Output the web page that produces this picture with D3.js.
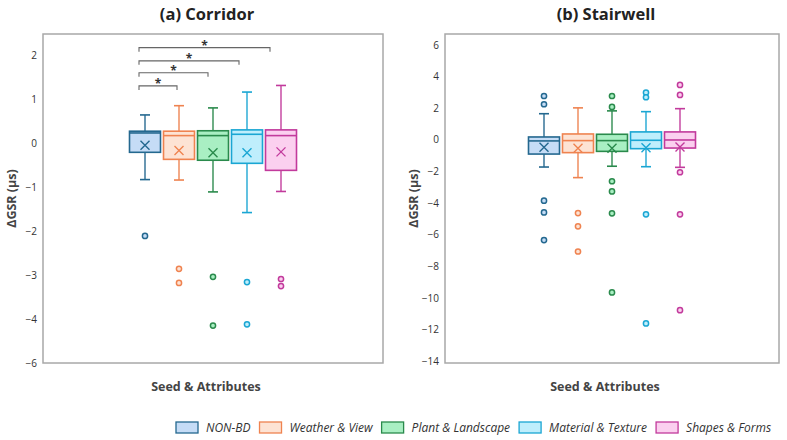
<!DOCTYPE html>
<html>
<head>
<meta charset="utf-8">
<script src="https://cdn.jsdelivr.net/npm/d3@7"></script>
<style>
  body { margin: 0; background: #fff; }
  svg { font-family: "Open Sans", "Noto Sans", sans-serif; }
  .tick-label { font-size: 10px; fill: #333; }
  .panel-title { font-size: 16.5px; font-weight: bold; fill: #222; }
  .axis-title { font-size: 12.5px; font-weight: bold; fill: #444; }
  .legend-label { font-size: 12px; font-style: italic; fill: #333; }
</style>
</head>
<body>
<svg id="chart" width="787" height="440"></svg>
<script>
// categories and colours
const categories = ['NON-BD', 'Weather & View', 'Plant & Landscape', 'Material & Texture', 'Shapes & Forms'];
const strokeColors = ['#24688f', '#ef8350', '#2a8a4c', '#1aa6d3', '#c23a9c'];
const fillColors = ['#c5dcf6', '#fde3d4', '#a9efc3', '#bfeefc', '#fbd0ef'];

// (a) Corridor
const corridorLow = [-0.83, -0.84, -1.11, -1.58, -1.10];
const corridorQ1 = [-0.21, -0.37, -0.39, -0.46, -0.62];
const corridorMedian = [0.23, 0.17, 0.17, 0.20, 0.17];
const corridorQ3 = [0.27, 0.27, 0.28, 0.30, 0.30];
const corridorHigh = [0.64, 0.85, 0.80, 1.16, 1.31];
const corridorMean = [-0.05, -0.17, -0.22, -0.22, -0.20];
const corridorOutliers = [[-2.11], [-2.86, -3.18], [-3.04, -4.15], [-3.16, -4.12], [-3.09, -3.25]];
const corridorTicks = [2, 1, 0, -1, -2, -3, -4, -5];
const corridorTickLabels = ['2', '1', '0', '−1', '−2', '−3', '−4', '−6'];
// significance brackets: NON-BD vs each other category
const sigTargets = [1, 2, 3, 4];
const sigLevels = [1.30, 1.60, 1.87, 2.17];

// (b) Stairwell
const stairLow = [-1.71, -2.38, -1.66, -1.69, -1.73];
const stairQ1 = [-0.89, -0.80, -0.72, -0.55, -0.51];
const stairMedian = [-0.06, -0.04, -0.04, -0.02, 0.00];
const stairQ3 = [0.19, 0.38, 0.36, 0.51, 0.51];
const stairHigh = [1.66, 2.03, 1.84, 1.79, 1.98];
const stairMean = [-0.46, -0.53, -0.53, -0.49, -0.44];
const stairOutliers = [[2.78, 2.26, -3.84, -4.58, -6.33], [-4.62, -5.46, -7.05],
  [2.78, 2.09, -2.61, -3.25, -4.64, -9.64], [3.0, 2.7, -4.7, -11.6], [3.48, 2.85, -2.04, -4.7, -10.76]];
const stairTicks = [6, 4, 2, 0, -2, -4, -6, -8, -10, -12, -14];
const stairTickLabels = ['6', '4', '2', '0', '−2', '−4', '−6', '−8', '−10', '−12', '−14'];

const svg = d3.select('#chart');

function drawPanel(cfg) {
  const g = svg.append('g');
  const x = d3.scaleBand()
      .domain(categories)
      .range([cfg.cx - 85, cfg.cx + 85]);
  const y = d3.scaleLinear()
      .domain(cfg.domain)
      .range([cfg.bottom, cfg.top]);
  const boxW = 31, capW = 10;

  // frame
  g.append('rect')
      .attr('x', cfg.left).attr('y', cfg.top)
      .attr('width', cfg.right - cfg.left).attr('height', cfg.bottom - cfg.top)
      .attr('fill', 'none').attr('stroke', '#a8a8a8').attr('stroke-width', 1.5);

  // y axis labels
  g.selectAll('.tick-label')
      .data(cfg.ticks)
    .join('text')
      .attr('class', 'tick-label')
      .attr('x', cfg.left - 6)
      .attr('y', d => y(d))
      .attr('dy', '0.35em')
      .attr('text-anchor', 'end')
      .text((d, i) => cfg.tickLabels[i]);

  g.append('text')
      .attr('class', 'panel-title')
      .attr('x', (cfg.left + cfg.right) / 2 - 6)
      .attr('y', 20)
      .attr('text-anchor', 'middle')
      .text(cfg.title);

  g.append('text')
      .attr('class', 'axis-title')
      .attr('transform', `translate(${cfg.left - 27},${(cfg.top + cfg.bottom) / 2}) rotate(-90)`)
      .attr('text-anchor', 'middle')
      .text('ΔGSR (μs)');

  g.append('text')
      .attr('class', 'axis-title')
      .attr('x', (cfg.left + cfg.right) / 2 - 7)
      .attr('y', 391)
      .attr('text-anchor', 'middle')
      .text('Seed & Attributes');

  categories.forEach((c, i) => {
    const cx = x(c) + x.bandwidth() / 2;
    const col = strokeColors[i];
    const bg = g.append('g');
    // whiskers
    bg.append('line').attr('x1', cx).attr('x2', cx)
        .attr('y1', y(cfg.high[i])).attr('y2', y(cfg.q3[i]))
        .attr('stroke', col).attr('stroke-width', 1.6).attr('opacity', 0.85);
    bg.append('line').attr('x1', cx).attr('x2', cx)
        .attr('y1', y(cfg.q1[i])).attr('y2', y(cfg.low[i]))
        .attr('stroke', col).attr('stroke-width', 1.6).attr('opacity', 0.85);
    [cfg.high[i], cfg.low[i]].forEach(v => {
      bg.append('line').attr('x1', cx - capW / 2).attr('x2', cx + capW / 2)
          .attr('y1', y(v)).attr('y2', y(v))
          .attr('stroke', col).attr('stroke-width', 1.6);
    });
    // box
    bg.append('rect')
        .attr('x', cx - boxW / 2).attr('width', boxW)
        .attr('y', y(cfg.q3[i])).attr('height', y(cfg.q1[i]) - y(cfg.q3[i]))
        .attr('fill', fillColors[i]).attr('stroke', col).attr('stroke-width', 1.6);
    bg.append('line').attr('x1', cx - boxW / 2).attr('x2', cx + boxW / 2)
        .attr('y1', y(cfg.median[i])).attr('y2', y(cfg.median[i]))
        .attr('stroke', col).attr('stroke-width', 1.6);
    // mean marker
    const my = y(cfg.mean[i]), s = 4.5;
    bg.append('path')
        .attr('d', `M${cx - s},${my - s}L${cx + s},${my + s}M${cx - s},${my + s}L${cx + s},${my - s}`)
        .attr('stroke', col).attr('stroke-width', 1.4).attr('fill', 'none');
    // outliers
    bg.selectAll('circle')
        .data(cfg.outliers[i])
      .join('circle')
        .attr('cx', cx).attr('cy', d => y(d)).attr('r', 2.6)
        .attr('fill', fillColors[i]).attr('stroke', col).attr('stroke-width', 1.5);
  });

  if (cfg.sig) {
    const x0 = x(categories[0]) + x.bandwidth() / 2 - 6;
    sigTargets.forEach((t, k) => {
      const x1 = x(categories[t]) + x.bandwidth() / 2 - (3 * (k + 1) - 1);
      const yy = y(sigLevels[k]);
      g.append('path')
          .attr('d', `M${x0},${yy + 4}V${yy}H${x1}V${yy + 4}`)
          .attr('fill', 'none').attr('stroke', '#666').attr('stroke-width', 1.1);
      g.append('text')
          .attr('x', (x0 + x1) / 2).attr('y', yy + 2)
          .attr('text-anchor', 'middle')
          .style('font-size', '12px').style('font-weight', 'bold').style('fill', '#333')
          .text('*');
    });
  }
}

drawPanel({
  title: '(a) Corridor', left: 43, right: 383, top: 34, bottom: 363, cx: 213,
  domain: [-5, 2.48], ticks: corridorTicks, tickLabels: corridorTickLabels,
  low: corridorLow, q1: corridorQ1, median: corridorMedian, q3: corridorQ3, high: corridorHigh,
  mean: corridorMean, outliers: corridorOutliers, sig: true
});

drawPanel({
  title: '(b) Stairwell', left: 445, right: 779, top: 34, bottom: 363, cx: 612,
  domain: [-14.1, 6.7], ticks: stairTicks, tickLabels: stairTickLabels,
  low: stairLow, q1: stairQ1, median: stairMedian, q3: stairQ3, high: stairHigh,
  mean: stairMean, outliers: stairOutliers, sig: false
});

// legend
const legend = svg.append('g');
let lx = 176;
categories.forEach((c, i) => {
  legend.append('rect')
      .attr('x', lx).attr('y', 422).attr('width', 22).attr('height', 11)
      .attr('fill', fillColors[i]).attr('stroke', strokeColors[i]).attr('stroke-width', 1.3);
  const t = legend.append('text')
      .attr('class', 'legend-label')
      .attr('x', lx + 30).attr('y', 432)
      .text(c);
  lx += 30 + t.node().getComputedTextLength() + 9;
});
</script>
</body>
</html>
